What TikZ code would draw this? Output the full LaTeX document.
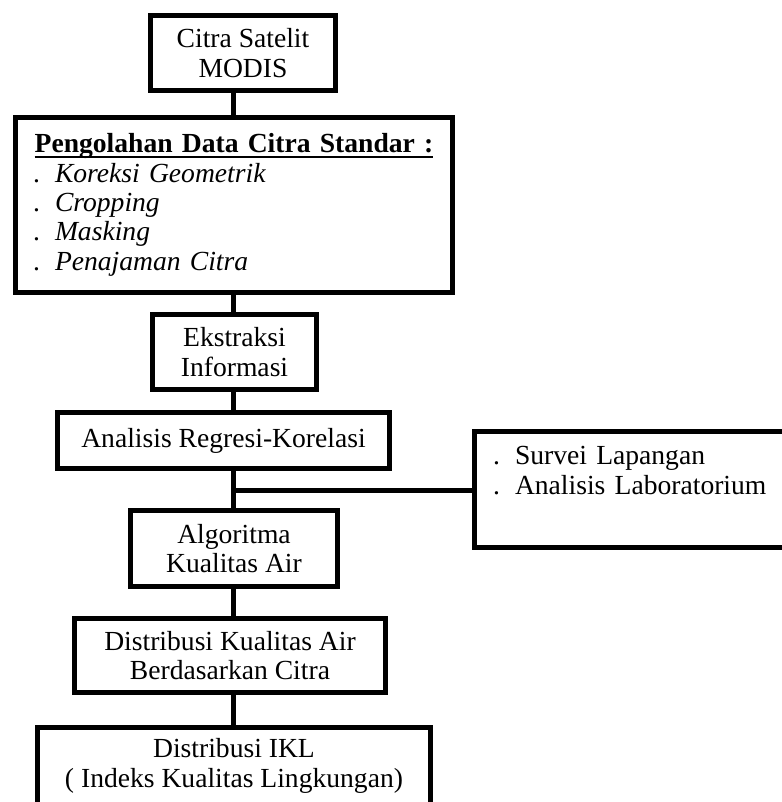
\documentclass[tikz,border=0pt]{standalone}
\usepackage{fontspec}
\setmainfont{Liberation Serif}
\usepackage{tikz}
\tikzset{>=latex}
\tikzstyle{kotak} = [draw, rectangle, line width = 3.75pt, align = center, inner sep = 2pt]
\tikzstyle{garis} = [-, line width = 3.75pt]
\newcommand{\titik}{\makebox[16.5pt][l]{.}}
\newcommand{\garisbawah}[1]{\setbox0\hbox{#1}\rlap{\rule[-3.8pt]{\wd0}{1.8pt}}\box0}

\begin{document}
\begin{tikzpicture}[x=0.75pt, y=-0.75pt, font=\fontsize{20.7}{22}\selectfont]
\useasboundingbox (0, 0) rectangle (781, 802);
\coordinate (poros) at (233, 0);
\node [kotak, minimum width = 138.75pt, minimum height = 56.25pt] (sat) at (243, 53) {Citra Satelit\\MODIS};
\node [kotak, align = left, text width = 301.5pt, minimum width = 327.75pt, minimum height = 131.25pt] (olah) at (234, 205) {\makebox[301.5pt]{\garisbawah{\textbf{Pengolahan Data Citra Standar :}}}\\
\titik\textit{Koreksi Geometrik}\\
\titik\textit{Cropping}\\
\titik\textit{Masking}\\
\titik\textit{Penajaman Citra}};
\node [kotak, minimum width = 123pt, minimum height = 56.25pt] (ekstr) at (234.5, 352) {Ekstraksi\\Informasi};
\node [kotak, minimum width = 249pt, minimum height = 42pt] (regr) at (223.5, 440.5) {Analisis Regresi-Korelasi};
\node [kotak, minimum width = 155.25pt, minimum height = 57pt] (algo) at (234, 548.5) {Algoritma\\Kualitas Air};
\node [kotak, minimum width = 233.25pt, minimum height = 55.5pt] (distr) at (230, 655.5) {Distribusi Kualitas Air\\Berdasarkan Citra};
\node [kotak, minimum width = 294.75pt, minimum height = 57.75pt] (ikl) at (234, 766) {Distribusi IKL\\( Indeks Kualitas Lingkungan)};
\node [kotak, align = left, text width = 214.5pt, minimum width = 242.25pt, minimum height = 87pt] (lap) at (636, 489.5) {\titik Survei Lapangan\\
\titik Analisis Laboratorium\\
\strut};
\coordinate (cabang) at (233, 490);
\draw [garis] (sat.south -| poros) -- (olah.north -| poros);
\draw [garis] (olah.south -| poros) -- (ekstr.north -| poros);
\draw [garis] (ekstr.south -| poros) -- (regr.north -| poros);
\draw [garis] (regr.south -| poros) -- (algo.north -| poros);
\draw [garis] (algo.south -| poros) -- (distr.north -| poros);
\draw [garis] (distr.south -| poros) -- (ikl.north -| poros);
\draw [garis] (cabang) -- (lap.west |- cabang);
\end{tikzpicture}
\end{document}
